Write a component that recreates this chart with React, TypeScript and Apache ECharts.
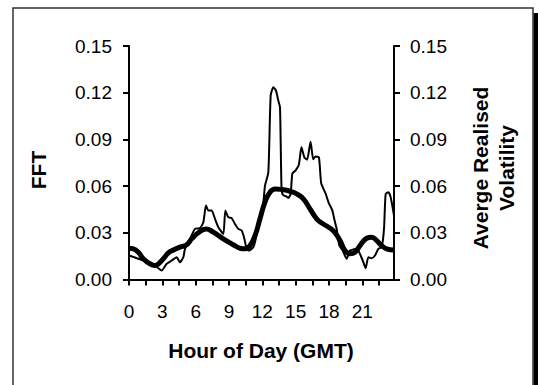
import React, { useEffect, useRef } from "react";
import * as echarts from "echarts";

// Thin line: average realised volatility (hour of day, value)
const volHours = [0, 1.29, 1.89, 2.34, 2.94, 3.39, 3.84, 4.29, 4.59, 4.89, 5.04, 5.49, 5.94, 6.39, 6.69, 6.93, 7.14, 7.44, 7.74, 8.04, 8.49, 8.67, 8.94, 9.24, 9.54, 9.84, 10.14, 10.35, 10.59, 10.8, 11.19, 11.34, 11.64, 12.09, 12.24, 12.54, 12.75, 12.99, 13.23, 13.44, 13.59, 13.72, 13.83, 14.19, 14.34, 14.55, 14.7, 14.98, 15.28, 15.52, 15.79, 16.03, 16.34, 16.58, 16.79, 17.09, 17.3, 17.69, 17.99, 18.29, 18.5, 18.69, 18.93, 19.23, 19.59, 19.89, 20.49, 20.85, 21.09, 21.3, 21.54, 21.84, 22.14, 22.44, 22.74, 22.95, 23.1, 23.34, 23.55, 23.85];
const volValues = [0.0154, 0.0122, 0.0111, 0.009, 0.0058, 0.0101, 0.0122, 0.0143, 0.0111, 0.0143, 0.0197, 0.0261, 0.0325, 0.033, 0.0368, 0.0475, 0.0443, 0.0443, 0.0389, 0.0336, 0.0293, 0.0443, 0.04, 0.0394, 0.0357, 0.0325, 0.0315, 0.0272, 0.0197, 0.0186, 0.0208, 0.024, 0.0347, 0.0496, 0.0603, 0.0689, 0.1181, 0.1235, 0.1213, 0.1149, 0.1106, 0.0603, 0.0545, 0.0532, 0.0524, 0.0550, 0.068, 0.070, 0.0735, 0.0849, 0.0784, 0.077, 0.0885, 0.0772, 0.079, 0.0785, 0.0618, 0.0553, 0.0489, 0.0446, 0.038, 0.0325, 0.0218, 0.0186, 0.0133, 0.0186, 0.0197, 0.0154, 0.0111, 0.0073, 0.0143, 0.0137, 0.0154, 0.0197, 0.0208, 0.0325, 0.055, 0.0561, 0.0529, 0.0411];

// Thick line: FFT fit
const fftHours = [0, 0.4, 0.84, 1.29, 1.89, 2.34, 2.64, 3.09, 3.54, 3.99, 4.59, 5.19, 5.64, 6.24, 6.93, 7.59, 8.49, 9.39, 9.99, 10.44, 10.89, 11.34, 11.79, 12.24, 12.69, 13.14, 13.74, 14.49, 15.09, 15.69, 16.29, 16.89, 17.49, 18.09, 18.54, 18.99, 19.44, 19.89, 20.34, 20.79, 21.39, 21.84, 22.29, 22.74, 23.19, 23.85];
const fftValues = [0.0201, 0.0197, 0.0175, 0.0133, 0.01, 0.009, 0.01, 0.0133, 0.0171, 0.019, 0.0208, 0.0223, 0.0261, 0.03, 0.0325, 0.0304, 0.0261, 0.0223, 0.0201, 0.0197, 0.0218, 0.0282, 0.039, 0.0497, 0.056, 0.0582, 0.0578, 0.0567, 0.055, 0.0518, 0.0454, 0.039, 0.0357, 0.033, 0.03, 0.025, 0.0186, 0.0165, 0.0175, 0.0218, 0.0265, 0.0272, 0.025, 0.0218, 0.0197, 0.019];

const xTickHours = [0, 1.5, 3, 4.5, 6, 7.5, 9, 10.5, 12, 13.5, 15, 16.5, 18, 19.5, 21, 22.5];
const xLabelHours = [0, 3, 6, 9, 12, 15, 18, 21];
const yMin = 0;
const yMax = 0.15;
const yStep = 0.03;

const FONT = "Liberation Sans, Arial, sans-serif";

export default function App() {
  const ref = useRef<HTMLDivElement>(null);
  useEffect(() => {
    if (!ref.current) return;
    const chart = echarts.init(ref.current, null, { renderer: "svg" });
    const axisLine = { show: true, lineStyle: { color: "#000", width: 2 } };
    const yAxisCommon = {
      type: "value" as const,
      min: yMin,
      max: yMax,
      interval: yStep,
      splitLine: { show: false },
      axisLine,
      axisTick: { show: true, inside: false, length: 6, lineStyle: { color: "#000", width: 2 } },
    };
    chart.setOption({
      animation: false,
      backgroundColor: "#fff",
      grid: { left: 129, right: 144, top: 46, bottom: 105.5, containLabel: false },
      xAxis: {
        type: "value",
        min: 0,
        max: 23.85,
        splitLine: { show: false },
        axisLine,
        axisTick: { show: true, length: 6, lineStyle: { color: "#000", width: 2 }, customValues: xTickHours },
        axisLabel: {
          customValues: xLabelHours,
          formatter: (v: number) => String(v),
          fontSize: 19,
          fontFamily: FONT,
          color: "#000",
          margin: 22,
        },
      },
      yAxis: [
        {
          ...yAxisCommon,
          position: "left",
          axisLabel: { formatter: (v: number) => v.toFixed(2), fontSize: 19, fontFamily: FONT, color: "#000", margin: 17 },
        },
        {
          ...yAxisCommon,
          position: "right",
          axisLabel: { formatter: (v: number) => v.toFixed(2), fontSize: 19, fontFamily: FONT, color: "#000", margin: 16 },
        },
      ],
      series: [
        {
          name: "Realised Volatility",
          type: "line",
          data: volHours.map((h, i) => [h, volValues[i]]),
          showSymbol: false,
          smooth: 0.2,
          lineStyle: { color: "#000", width: 2 },
          z: 2,
        },
        {
          name: "FFT",
          type: "line",
          data: fftHours.map((h, i) => [h, fftValues[i]]),
          showSymbol: false,
          smooth: 0.5,
          lineStyle: { color: "#000", width: 5 },
          z: 3,
        },
      ],
      graphic: [
        { type: "rect", silent: true, shape: { x: 533.5, y: 13, width: 10, height: 400 }, style: { fill: "#000" } },
        { type: "rect", silent: true, shape: { x: 13, y: 8, width: 520, height: 400 }, style: { fill: "none", stroke: "#333", lineWidth: 1.5 } },
        {
          type: "text", silent: true, x: 38, y: 170, rotation: Math.PI / 2,
          style: { text: "FFT", font: `bold 21px ${FONT}`, fill: "#000", textAlign: "center", textVerticalAlign: "middle" },
        },
        {
          type: "text", silent: true, x: 493, y: 168, rotation: Math.PI / 2,
          style: { text: "Averge Realised\nVolatility", font: `bold 21px ${FONT}`, fill: "#000", textAlign: "center", textVerticalAlign: "middle", lineHeight: 26 },
        },
        {
          type: "text", silent: true, x: 261, y: 350,
          style: { text: "Hour of Day (GMT)", font: `bold 21px ${FONT}`, fill: "#000", textAlign: "center", textVerticalAlign: "middle" },
        },
      ],
    });
    return () => chart.dispose();
  }, []);
  return <div ref={ref} style={{ position: "absolute", left: 0, top: 0, width: 538, height: 385 }} />;
}
